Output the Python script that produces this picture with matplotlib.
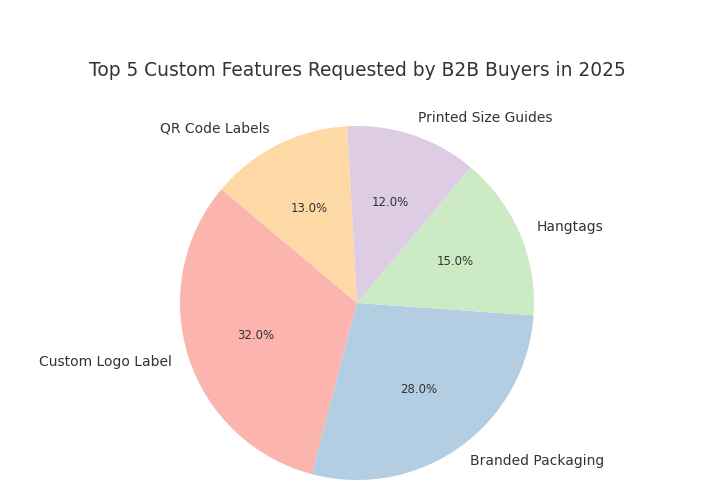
import matplotlib
matplotlib.use('Agg')
import matplotlib.pyplot as plt

features = ['Custom Logo Label', 'Branded Packaging', 'Hangtags',
            'Printed Size Guides', 'QR Code Labels']
shares = [32, 28, 15, 12, 13]
colors = ['#fbb4ae', '#b3cde3', '#ccebc5', '#decbe4', '#fed9a6']

fig = plt.figure(figsize=(7.24, 4.99), dpi=100)
ax = fig.add_axes([0.0, 0.0, 1.0, 1.0])
ax.pie(shares, labels=features, colors=colors, autopct='%1.1f%%',
       startangle=140, center=(0, 0), radius=1.0,
       textprops={'color': '#333333', 'fontsize': 10})
for t in ax.texts:
    if t.get_text().endswith('%'):
        t.set_fontsize(8.5)
ax.set_aspect('equal')
# pie radius ~177 px, centre at (357, 303) from the top-left
r_px = 177.0
w, h = 724.0, 499.0
cx, cy = 357.0, h - 303.0
ax.set_xlim(-cx / r_px, (w - cx) / r_px)
ax.set_ylim(-cy / r_px, (h - cy) / r_px)
fig.text(357.5 / w, 1 - 70 / h, 'Top 5 Custom Features Requested by B2B Buyers in 2025',
         ha='center', va='center', fontsize=13.4, color='#333333')
fig.savefig('out.png', dpi=100)
